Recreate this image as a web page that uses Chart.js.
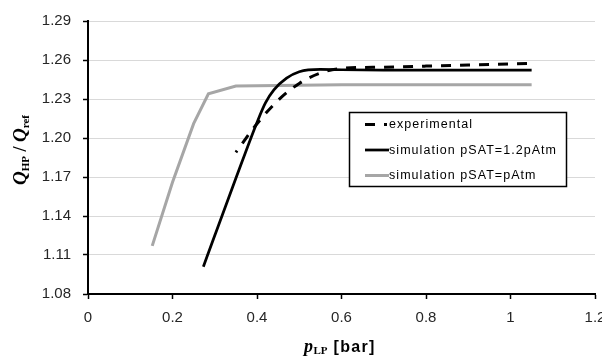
<!DOCTYPE html>
<html><head><meta charset="utf-8">
<script src="https://cdn.jsdelivr.net/npm/chart.js@4"></script>
<style>html,body{margin:0;padding:0;background:#fff}#wrap{width:602px;height:361px}</style>
</head><body><div id="wrap"><canvas id="c" width="602" height="361"></canvas></div>
<script>
const xTicks=[0,0.2,0.4,0.6,0.8,1,1.2];
const xTickLabels=['0','0.2','0.4','0.6','0.8','1','1.2'];
const yTicks=[1.08,1.11,1.14,1.17,1.20,1.23,1.26,1.29];
const yTickLabels=['1.08','1.11','1.14','1.17','1.20','1.23','1.26','1.29'];
const seriesNames=['experimental','simulation pSAT=1.2pAtm','simulation pSAT=pAtm'];
const expX=[0.35,0.40,0.45,0.50,0.55,0.60,0.70,0.80,0.90,1.00,1.05];
const expY=[1.189,1.211,1.229,1.242,1.250,1.2535,1.2545,1.2553,1.2561,1.2570,1.2575];
const sim12X=[0.273,0.30,0.35,0.40,0.42,0.44,0.47,0.50,0.55,0.60,0.70,0.85,1.05];
const sim12Y=[1.101,1.125,1.169,1.212,1.227,1.237,1.246,1.251,1.2528,1.2525,1.2522,1.2522,1.2522];
const simX=[0.152,0.20,0.25,0.285,0.35,0.60,1.05];
const simY=[1.117,1.166,1.211,1.234,1.240,1.241,1.241];

const ds=(label,xs,ys,extra)=>Object.assign({label,data:xs.map((x,i)=>({x,y:ys[i]})),showLine:true,pointRadius:0,pointHoverRadius:0,fill:false},extra);

const legendPlugin={id:'boxLegend',afterDraw(c){
  const ctx=c.ctx;ctx.save();
  ctx.fillStyle='#fff';ctx.fillRect(349,112,218,75);
  ctx.strokeStyle='#000';ctx.lineWidth=1.5;ctx.strokeRect(349.5,112.5,217,74);
  const rows=[124.5,150,175.5];
  c.data.datasets.forEach((d,i)=>{
    const y=rows[i];
    ctx.beginPath();
    ctx.strokeStyle=d.borderColor;ctx.lineWidth=d.borderWidth;ctx.lineCap='butt';
    if(d.borderDash){ctx.setLineDash([10,9,3,30]);}else{ctx.setLineDash([]);}
    ctx.moveTo(365,y);ctx.lineTo(389,y);ctx.stroke();
    ctx.setLineDash([]);
    ctx.fillStyle='#000';ctx.font='12.5px "Liberation Sans", Arial, sans-serif';
    ctx.letterSpacing='1.05px';ctx.textBaseline='middle';ctx.textAlign='left';
    ctx.fillText(d.label,389,y+0.5);
  });
  ctx.restore();
}};

const titlePlugin={id:'titles',afterDraw(c){
  const ctx=c.ctx;ctx.save();
  ctx.fillStyle='#000';ctx.textBaseline='alphabetic';ctx.textAlign='left';ctx.letterSpacing='0px';
  // x title
  const fP='italic bold 18px "Liberation Serif", serif', fS='bold 11px "Liberation Serif", serif', fB='bold 16px "Liberation Sans", Arial, sans-serif';
  let y=352;
  ctx.font=fP;ctx.fillText('p',304,y);
  let x=304+ctx.measureText('p').width+0.5;
  ctx.font=fS;ctx.fillText('LP',x,y+2);
  x+=ctx.measureText('LP').width+6;
  ctx.font=fB;ctx.letterSpacing='1.3px';ctx.fillText('[bar]',Math.max(331,x),y);
  ctx.letterSpacing='0px';
  // y title
  ctx.translate(26,150);ctx.rotate(-Math.PI/2);
  const parts=[['Q','italic bold 19px "Liberation Serif", serif',0],['HP','bold 11px "Liberation Serif", serif',3],[' / ','bold 18px "Liberation Serif", serif',0],['Q','italic bold 19px "Liberation Serif", serif',0],['ref','bold 11px "Liberation Serif", serif',3]];
  let tw=0;parts.forEach(p=>{ctx.font=p[1];tw+=ctx.measureText(p[0]).width;});
  x=-tw/2;
  parts.forEach(p=>{ctx.font=p[1];ctx.fillText(p[0],x,p[2]);x+=ctx.measureText(p[0]).width;});
  ctx.restore();
}};

const tickFont={family:'"Liberation Sans", Arial, sans-serif',size:15};

new Chart(document.getElementById('c'),{
  type:'scatter',
  data:{datasets:[
    ds(seriesNames[0],expX,expY,{borderColor:'#000',borderWidth:3,borderDash:[10,9],borderDashOffset:8,cubicInterpolationMode:'monotone',order:0}),
    ds(seriesNames[1],sim12X,sim12Y,{borderColor:'#000',borderWidth:2.75,cubicInterpolationMode:'monotone',order:1}),
    ds(seriesNames[2],simX,simY,{borderColor:'#a6a6a6',borderWidth:3,tension:0,order:2})
  ]},
  options:{responsive:false,animation:false,devicePixelRatio:1,
    layout:{padding:{left:0,right:7,top:19,bottom:0}},
    plugins:{legend:{display:false},tooltip:{enabled:false}},
    scales:{
      x:{type:'linear',min:0,max:1.2,
        afterBuildTicks:s=>{s.ticks=xTicks.map(v=>({value:v}));},
        ticks:{callback:v=>xTickLabels[xTicks.findIndex(t=>Math.abs(t-v)<1e-9)],font:tickFont,color:'#262626',padding:10,maxRotation:0,autoSkip:false},
        grid:{drawOnChartArea:false,drawTicks:true,tickLength:5,tickColor:'#000',tickWidth:1.5},
        border:{color:'#000',width:2},
        afterFit:s=>{s.height=67;s.paddingLeft=0;s.paddingRight=0;}
      },
      y:{type:'linear',min:1.08,max:1.29,
        afterBuildTicks:s=>{s.ticks=yTicks.map(v=>({value:v}));},
        ticks:{callback:v=>yTickLabels[yTicks.findIndex(t=>Math.abs(t-v)<1e-9)],font:tickFont,color:'#262626',padding:12,autoSkip:false},
        grid:{color:'#d9d9d9',lineWidth:1,drawTicks:true,tickLength:5,tickColor:'#000',tickWidth:1.5},
        border:{color:'#000',width:2},
        afterFit:s=>{s.width=88;}
      }
    }
  },
  plugins:[legendPlugin,titlePlugin]
});
</script></body></html>
